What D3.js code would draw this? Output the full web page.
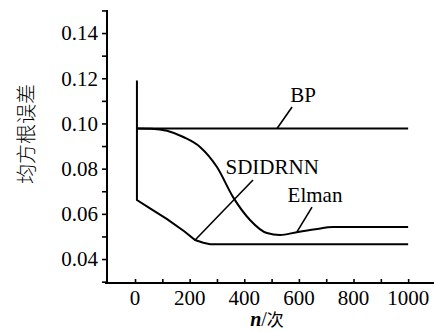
<!DOCTYPE html>
<html><head><meta charset="utf-8">
<script src="https://cdn.jsdelivr.net/npm/d3@7"></script>
<style>body{margin:0;background:#fff}svg{display:block}
.sf{font-family:"Liberation Serif","Times New Roman",Times,"Tinos","DejaVu Serif","Noto Serif",serif}
.cjk{font-family:"Noto Sans CJK SC",sans-serif}</style>
</head><body>
<script>
const xTicks = [0, 200, 400, 600, 800, 1000];
const yTicks = [0.04, 0.06, 0.08, 0.10, 0.12, 0.14];
const seriesNames = ["BP", "Elman", "SDIDRNN"];
const bpN = [7, 1000];
const bpV = [0.0978, 0.0978];
const elmanN = [7, 60, 117, 177, 238, 300, 359, 421, 483, 531, 592, 660, 726, 1000];
const elmanV = [0.0978, 0.0977, 0.0968, 0.094, 0.0896, 0.0807, 0.0674, 0.0573, 0.0515, 0.0506, 0.0519, 0.0532, 0.0542, 0.0542];
const sdiN = [7, 7, 55, 116, 180, 220, 250, 275, 1000];
const sdiV = [0.119, 0.0661, 0.0624, 0.0578, 0.0523, 0.0484, 0.0472, 0.0466, 0.0466];
// annotation labels: text anchor (n,v) and leader line endpoints
const annText = ["BP", "SDIDRNN", "Elman"];
const annN = [615, 502, 659];
const annV = [0.1095, 0.0775, 0.0652];
const leadN1 = [575, 432, 648];
const leadV1 = [0.1073, 0.0750, 0.0630];
const leadN2 = [520, 220, 593];
const leadV2 = [0.0978, 0.0484, 0.0520];

const W = 436, H = 331;
const svg = d3.select("body").append("svg").attr("width", W).attr("height", H);
const x = d3.scaleLinear().domain([-102.6, 1091]).range([107, 433]);
const y = d3.scaleLinear().domain([0.0294, 0.1502]).range([283, 10]);

// axes
const yAxis = d3.axisLeft(y).tickValues(d3.range(0.03, 0.1501, 0.01)).tickSize(5).tickFormat(() => "");
const gy = svg.append("g").attr("transform", "translate(107,0)").call(yAxis);
gy.select(".domain").remove();
gy.selectAll("line").attr("stroke", "#000").attr("stroke-width", 1.6);
svg.append("line").attr("x1", 107).attr("x2", 107).attr("y1", 10).attr("y2", 284).attr("stroke", "#000").attr("stroke-width", 2);
svg.selectAll(".ylab").data(yTicks).enter().append("text").attr("class", "sf")
  .attr("x", 98).attr("y", d => y(d)).attr("dy", "0.35em")
  .attr("text-anchor", "end").attr("font-size", 21)
  .text(d => d.toFixed(2));

const xAxis = d3.axisTop(x).tickValues(d3.range(0, 1001, 100)).tickSize(4).tickFormat(() => "");
const gx = svg.append("g").attr("transform", "translate(0,283)").call(xAxis);
gx.select(".domain").remove();
gx.selectAll("line").attr("stroke", "#000").attr("stroke-width", 1.6);
svg.append("line").attr("x1", 105).attr("x2", 434).attr("y1", 283).attr("y2", 283).attr("stroke", "#000").attr("stroke-width", 2);
svg.selectAll(".xlab").data(xTicks).enter().append("text").attr("class", "sf")
  .attr("x", d => x(d)).attr("y", 305)
  .attr("text-anchor", "middle").attr("font-size", 21)
  .text(d => d);

// axis titles
svg.append("text").attr("class", "cjk").attr("transform", "translate(34,134) rotate(-90)")
  .attr("text-anchor", "middle").attr("font-size", 20).attr("font-weight", 300).text("均方根误差");
const xt = svg.append("text").attr("class", "sf").attr("x", 267).attr("y", 326).attr("text-anchor", "middle")
  .attr("font-size", 20);
xt.append("tspan").attr("font-style", "italic").attr("font-weight", "bold").text("n");
xt.append("tspan").text("/");
xt.append("tspan").attr("class", "cjk").attr("font-size", 17).text("次");

// lines
const mk = (ns, vs) => ns.map((n, i) => [n, vs[i]]);
const lin = d3.line().x(d => x(d[0])).y(d => y(d[1]));
const smooth = d3.line().x(d => x(d[0])).y(d => y(d[1])).curve(d3.curveMonotoneX);
const data = [
  {name: seriesNames[0], pts: mk(bpN, bpV), gen: lin},
  {name: seriesNames[1], pts: mk(elmanN, elmanV), gen: smooth},
  {name: seriesNames[2], pts: mk(sdiN, sdiV), gen: lin}
];
svg.selectAll(".series").data(data).enter().append("path")
  .attr("d", d => d.gen(d.pts)).attr("fill", "none")
  .attr("stroke", "#000").attr("stroke-width", 2);

// annotations
annText.forEach((t, i) => {
  svg.append("line").attr("x1", x(leadN1[i])).attr("y1", y(leadV1[i]))
    .attr("x2", x(leadN2[i])).attr("y2", y(leadV2[i]))
    .attr("stroke", "#000").attr("stroke-width", 1.6);
  svg.append("text").attr("class", "sf").attr("x", x(annN[i])).attr("y", y(annV[i]))
    .attr("text-anchor", "middle").attr("font-size", 21)
    .text(t);
});
</script>
</body></html>
